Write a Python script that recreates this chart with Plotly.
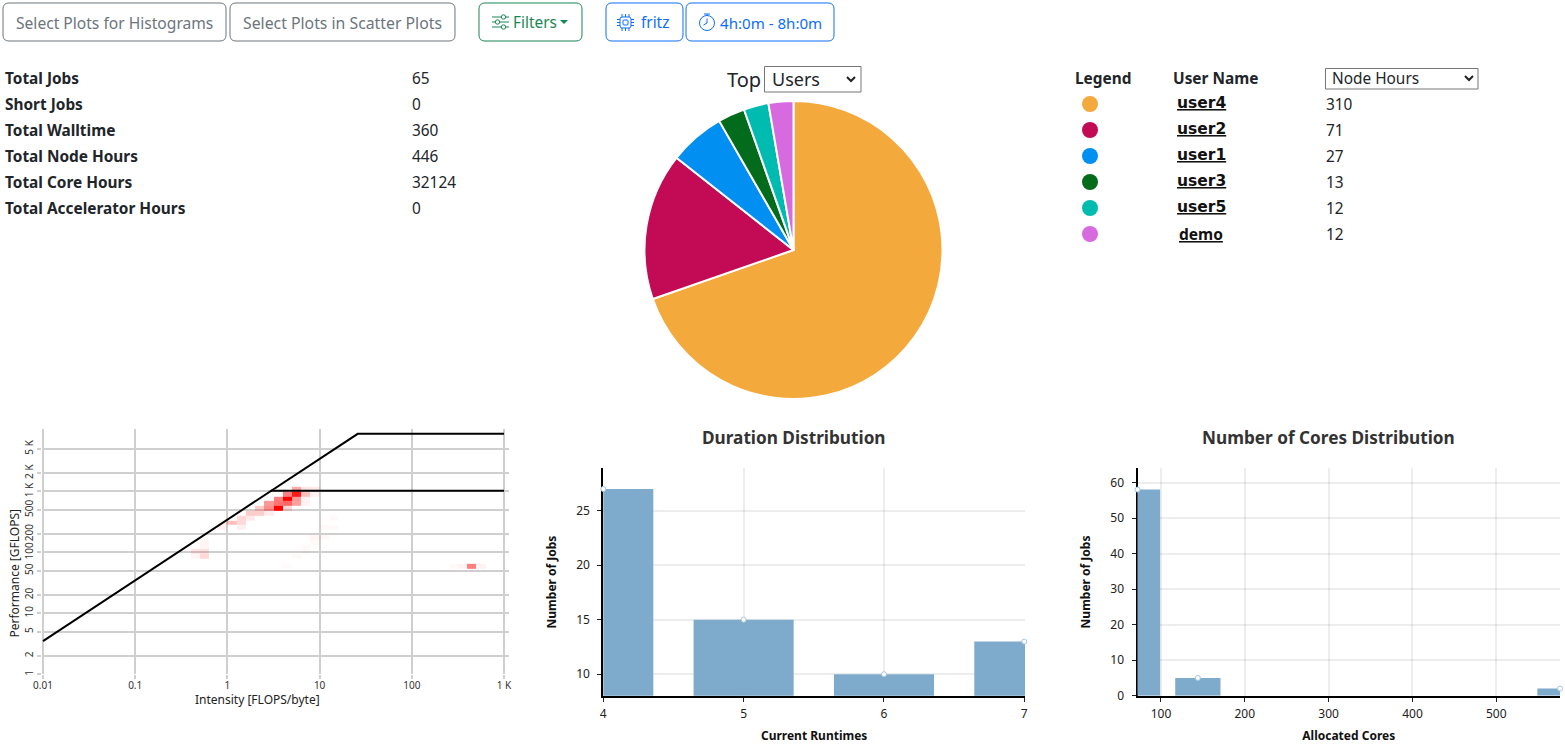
import numpy as np
import plotly.graph_objects as go

W, H = 1565, 744
FONT = "Noto Sans"
DARK = "#212529"
BODY = 15.4

# Summary table
stat_labels = ["Total Jobs", "Short Jobs", "Total Walltime", "Total Node Hours", "Total Core Hours", "Total Accelerator Hours"]
stat_values = ["65", "0", "360", "446", "32124", "0"]

# Top users
user_names = ["user4", "user2", "user1", "user3", "user5", "demo"]
user_hours = [310, 71, 27, 13, 12, 12]
user_colors = ["#f4a93d", "#c20a55", "#028ff2", "#036b1c", "#00bbb0", "#d86ae0"]

# Duration histogram
duration_x = [4, 5, 6, 7]
duration_y = [27, 15, 10, 13]

# Cores histogram
cores_x = [72, 144, 576]
cores_y = [58, 5, 2]

# Roofline lines
mem_line_x = [0.01, 25.9, 1000]
mem_line_y = [3.5, 8830, 8830]
scalar_line_x = [2.94, 1000]
scalar_line_y = [1023, 1023]

# Roofline heatmap, sparse: column, row, density
cell_col = [27, 27, 27, 27, 26, 26, 26, 26, 25, 25, 25, 24, 24, 24, 23, 23, 22, 22,
            21, 21, 21, 20, 19, 19, 28, 28, 28, 28, 29, 29,
            46, 45, 47, 44, 16, 16, 17, 17, 17, 17,
            31, 31, 30, 29, 30, 28, 29, 27, 26, 28]
cell_row = [38, 37, 36, 35, 37, 36, 35, 34, 36, 35, 34, 35, 34, 33, 34, 33, 33, 32,
            32, 31, 30, 31, 30, 31, 38, 37, 36, 35, 38, 37,
            22, 22, 22, 22, 25, 24, 27, 26, 25, 24,
            32, 30, 30, 28, 28, 26, 27, 24, 22, 25]
cell_val = [0.35, 0.9, 0.4, 0.38, 0.5, 1.0, 0.6, 0.15, 0.5, 0.55, 1.0, 0.4, 0.45, 0.08, 0.2, 0.2, 0.2, 0.08,
            0.15, 0.15, 0.06, 0.25, 0.06, 0.05, 0.1, 0.25, 0.05, 0.05, 0.08, 0.05,
            0.5, 0.04, 0.05, 0.02, 0.1, 0.04, 0.04, 0.04, 0.12, 0.15,
            0.02, 0.025, 0.02, 0.04, 0.03, 0.025, 0.025, 0.02, 0.02, 0.02]

x_edges = 10 ** np.linspace(-2, 3, 51)
y_edges = 10 ** np.linspace(0, np.log10(8830), 51)
density = np.full((50, 50), np.nan)
density[cell_row, cell_col] = cell_val


def X(p):
    return p / W


def Y(p):
    return 1 - p / H


def pt(x, y):
    return f"{X(x):.5f},{Y(y):.5f}"


def note(text, x, y, size=BODY, color=DARK, anchor="left", bold=False, family=FONT, angle=0):
    if bold:
        text = f"<b>{text}</b>"
    return dict(text=text, x=X(x), y=Y(y), xref="paper", yref="paper", showarrow=False,
                xanchor=anchor, yanchor="middle", textangle=angle, borderpad=0,
                font=dict(size=size, color=color, family=family))


def round_box(x0, y0, x1, y1, r, color, width=1):
    d = (f"M{pt(x0 + r, y0)} L{pt(x1 - r, y0)} Q{pt(x1, y0)} {pt(x1, y0 + r)} "
         f"L{pt(x1, y1 - r)} Q{pt(x1, y1)} {pt(x1 - r, y1)} "
         f"L{pt(x0 + r, y1)} Q{pt(x0, y1)} {pt(x0, y1 - r)} "
         f"L{pt(x0, y0 + r)} Q{pt(x0, y0)} {pt(x0 + r, y0)} Z")
    return dict(type="path", xref="paper", yref="paper", path=d, line=dict(color=color, width=width))


def seg(x0, y0, x1, y1, color, width=1):
    return dict(type="line", xref="paper", yref="paper", x0=X(x0), y0=Y(y0), x1=X(x1), y1=Y(y1),
                line=dict(color=color, width=width))


def dot(cx, cy, r, color, fill=None, width=1):
    return dict(type="circle", xref="paper", yref="paper", x0=X(cx - r), x1=X(cx + r),
                y0=Y(cy - r), y1=Y(cy + r), fillcolor=fill if fill else "rgba(0,0,0,0)",
                line=dict(color=color, width=width))


def chevron(cx, cy, color="#222"):
    return dict(type="path", xref="paper", yref="paper",
                path=f"M{pt(cx - 4, cy - 2)} L{pt(cx, cy + 2)} L{pt(cx + 4, cy - 2)}",
                line=dict(color=color, width=2))


GREY = "#6c757d"
GREEN = "#198754"
BLUE = "#0d6efd"

shapes = [
    round_box(3, 3, 226, 41, 6, GREY),
    round_box(230, 3, 455, 41, 6, GREY),
    round_box(479, 3, 582, 41, 6, GREEN),
    round_box(606, 3, 683, 41, 6, BLUE),
    round_box(686, 3, 834, 41, 6, BLUE),
    # select boxes
    dict(type="rect", xref="paper", yref="paper", x0=X(764.5), x1=X(861), y0=Y(66.5), y1=Y(92),
         line=dict(color="#767676", width=1)),
    chevron(851, 79),
    dict(type="rect", xref="paper", yref="paper", x0=X(1325.5), x1=X(1478), y0=Y(68.5), y1=Y(89),
         line=dict(color="#767676", width=1)),
    chevron(1469, 78),
    # filter icon
    seg(492, 17, 501, 17, GREEN), seg(506, 17, 509, 17, GREEN), dot(503.5, 17, 2.2, GREEN),
    seg(492, 22, 495, 22, GREEN), seg(500, 22, 509, 22, GREEN), dot(497.5, 22, 2.2, GREEN),
    seg(492, 27, 501, 27, GREEN), seg(506, 27, 509, 27, GREEN), dot(503.5, 27, 2.2, GREEN),
    # caret
    dict(type="path", xref="paper", yref="paper", fillcolor=GREEN, line=dict(width=0),
         path=f"M{pt(560, 20)} L{pt(568, 20)} L{pt(564, 24)} Z"),
    # cpu icon
    round_box(620, 17, 631, 28, 2, BLUE),
    round_box(623, 20, 628, 25, 1, BLUE),
    # stopwatch icon
    dot(707, 23, 7.5, BLUE),
    seg(707, 23, 707, 18.5, BLUE),
    seg(707, 23, 703.5, 25, BLUE),
    seg(704, 14, 710, 14, BLUE),
    seg(707, 14, 707, 15.5, BLUE),
]
for pin in [622, 625.5, 629]:
    shapes.append(seg(pin, 14, pin, 17, BLUE))
    shapes.append(seg(pin, 28, pin, 31, BLUE))
for pin in [19.5, 22.5, 25.5]:
    shapes.append(seg(617, pin, 620, pin, BLUE))
    shapes.append(seg(631, pin, 634, pin, BLUE))

annotations = [
    note("Select Plots for Histograms", 114.5, 22.5, size=15.6, color=GREY, anchor="center"),
    note("Select Plots in Scatter Plots", 342.5, 22.5, size=15.8, color=GREY, anchor="center"),
    note("Filters", 512, 22.5, color=GREEN),
    note("fritz", 640, 22.5, color=BLUE),
    note("4h:0m - 8h:0m", 719, 22.5, size=15.1, color=BLUE),
    note("Top", 726, 79, size=20),
    note("Users", 771, 79, size=18),
    note("Legend", 1074, 78, bold=True),
    note("User Name", 1172, 78, bold=True),
    note("Node Hours", 1331, 78),
    note("Duration Distribution", 793.5, 437, size=17.2, color="#333", anchor="center", bold=True),
    note("Number of Cores Distribution", 1328, 437, size=17.2, color="#333", anchor="center", bold=True),
    note("Intensity [FLOPS/byte]", 257.5, 699.5, size=12, color="#222", anchor="center"),
    note("Performance [GFLOPS]", 13.5, 574, size=12, color="#222", anchor="center", angle=-90),
]

row_step = 26
for k, (label, value) in enumerate(zip(stat_labels, stat_values)):
    annotations.append(note(label, 3.5, 78.4 + k * row_step, bold=True))
    annotations.append(note(value, 410.5, 78.4 + k * row_step))

for k, (name, hours, color) in enumerate(zip(user_names, user_hours, user_colors)):
    row_y = 104 + k * row_step
    shapes.append(dot(1090, row_y, 8, color, fill=color, width=0))
    family = FONT if name == "demo" else "DejaVu Sans"
    annotations.append(note(f"<u>{name}</u>", 1201, row_y - (0 if name == "demo" else 1), size=15.5,
                            color="#111", anchor="center", bold=True, family=family))
    annotations.append(note(str(hours), 1325, row_y + 0.4))

fig = go.Figure()

fig.add_trace(go.Pie(
    labels=user_names, values=user_hours, sort=False, direction="clockwise", rotation=0,
    marker=dict(colors=user_colors, line=dict(color="white", width=2)),
    textinfo="none", showlegend=False,
    domain=dict(x=[X(644.5), X(942.5)], y=[Y(399), Y(101)]),
))

# Roofline
fig.add_trace(go.Heatmap(
    x=x_edges, y=y_edges, z=density, zmin=0, zmax=1, showscale=False,
    colorscale=[[0, "rgba(255,0,0,0)"], [1, "rgba(255,0,0,1)"]],
    xaxis="x", yaxis="y",
))
fig.add_trace(go.Scatter(x=mem_line_x, y=mem_line_y, mode="lines", line=dict(color="black", width=2),
                         showlegend=False, xaxis="x", yaxis="y"))
fig.add_trace(go.Scatter(x=scalar_line_x, y=scalar_line_y, mode="lines", line=dict(color="black", width=2),
                         showlegend=False, xaxis="x", yaxis="y"))

# Histograms
BAR = "#7eaacb"
dot_style = dict(size=5, color="white", line=dict(color="#a5c6e0", width=1))
fig.add_trace(go.Bar(x=duration_x, y=duration_y, width=0.713, marker=dict(color=BAR, line=dict(width=0)),
                     showlegend=False, xaxis="x2", yaxis="y2"))
fig.add_trace(go.Scatter(x=duration_x, y=duration_y, mode="markers", marker=dot_style, cliponaxis=False,
                         showlegend=False, xaxis="x2", yaxis="y2"))
fig.add_trace(go.Bar(x=cores_x, y=cores_y, width=54, marker=dict(color=BAR, line=dict(width=0)),
                     showlegend=False, xaxis="x3", yaxis="y3"))
fig.add_trace(go.Scatter(x=cores_x, y=cores_y, mode="markers", marker=dot_style, cliponaxis=False,
                         showlegend=False, xaxis="x3", yaxis="y3"))

roof_grid = dict(showgrid=True, gridcolor="#cfcfcf", gridwidth=2, ticks="outside", ticklen=4, tickwidth=2,
                 tickcolor="#cfcfcf", showline=False, zeroline=False, tickfont=dict(size=10, color="#333"),
                 tickmode="array")
hist_y = dict(showgrid=True, gridcolor="rgba(0,0,0,0.07)", gridwidth=2, ticks="outside", ticklen=4, tickwidth=1,
              tickcolor="#222", showline=True, linecolor="black", linewidth=2, zeroline=False, layer="below traces",
              tickfont=dict(size=12, color="#222"), ticklabelstandoff=5,
              title=dict(text="<b>Number of Jobs</b>", font=dict(size=12, color="#111"), standoff=17))
hist_x = dict(showgrid=True, gridcolor="rgba(0,0,0,0.07)", gridwidth=2, ticks="outside", ticklen=4, tickwidth=1,
              tickcolor="#222", showline=True, linecolor="black", linewidth=2, zeroline=False, layer="below traces",
              tickfont=dict(size=12, color="#222"), ticklabelstandoff=2)

fig.update_layout(
    width=W, height=H, margin=dict(l=0, r=0, t=0, b=0, autoexpand=False), autosize=False,
    paper_bgcolor="white", plot_bgcolor="white", font=dict(family=FONT),
    shapes=shapes, annotations=annotations, showlegend=False, barmode="overlay",
    # range starts a little below 0.01, plotly drops a grid line sitting right on the edge
    xaxis=dict(type="log", range=[-2.015, 3.054], domain=[X(41.6), X(509)], anchor="y",
               tickvals=[0.01, 0.1, 1, 10, 100, 1000], ticktext=["0.01", "0.1", "1", "10", "100", "1 K"],
               ticklabelstandoff=-2, **roof_grid),
    yaxis=dict(type="log", range=[0, 4.02], domain=[Y(674.3), Y(429.3)], anchor="x",
               tickvals=[1, 2, 5, 10, 20, 50, 100, 200, 500, 1000, 2000, 5000],
               ticktext=["1", "2", "5", "10", "20", "50", "100", "200", "500", "1 K", "2 K", "5 K"],
               tickangle=-90, **roof_grid),
    xaxis2=dict(range=[4, 7.005], domain=[X(603.3), X(1025)], anchor="y2", tickvals=duration_x,
                title=dict(text="<b>Current Runtimes</b>", font=dict(size=12, color="#111"), standoff=19),
                **hist_x),
    yaxis2=dict(range=[8.03, 28.9], domain=[Y(695.7), Y(468.3)], anchor="x2", tickvals=[10, 15, 20, 25], **hist_y),
    xaxis3=dict(range=[72, 576], domain=[X(1137.5), X(1560)], anchor="y3", tickvals=[100, 200, 300, 400, 500],
                title=dict(text="<b>Allocated Cores</b>", font=dict(size=12, color="#111"), standoff=19),
                **hist_x),
    yaxis3=dict(range=[0, 64], domain=[Y(695.7), Y(468.3)], anchor="x3", tickvals=[0, 10, 20, 30, 40, 50, 60], **hist_y),
)

fig.write_html("out.html", config={"displayModeBar": False},
               post_script="document.body.style.margin='0';document.body.style.overflow='hidden';")
